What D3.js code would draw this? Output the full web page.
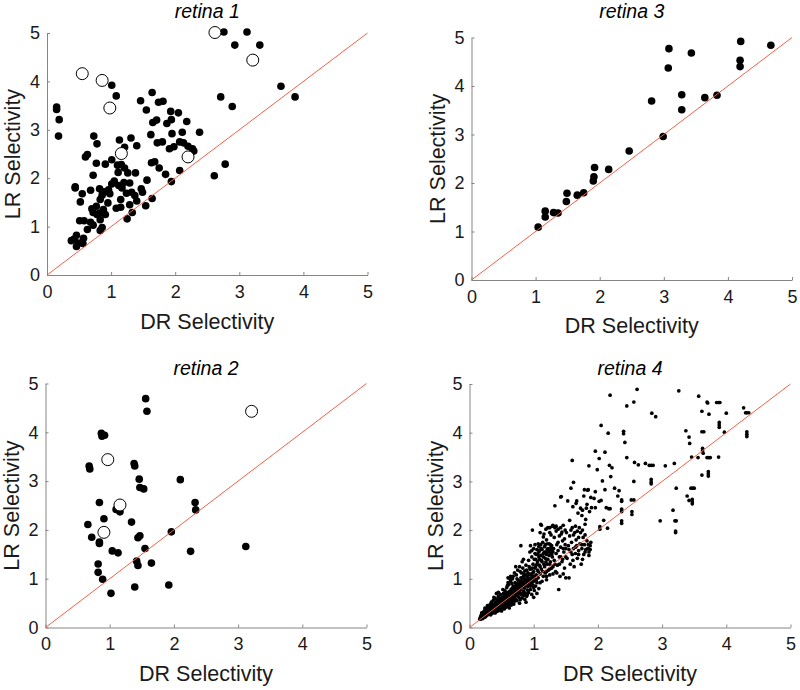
<!DOCTYPE html>
<html><head><meta charset="utf-8">
<script src="https://cdn.jsdelivr.net/npm/d3@7"></script>
<style>body{margin:0;background:#fff}svg{display:block}text{font-family:"Liberation Sans",Arial,Helvetica,sans-serif}</style>
</head><body><svg id="c" width="800" height="690"></svg>
<script>
const ticks = [0,1,2,3,4,5];
const titles = ["retina 1","retina 2","retina 3","retina 4"];
const xLabel = "DR Selectivity", yLabel = "LR Selectivity";

const r1Filled = [[2.76,5.02],[3.12,5.02],[2.93,4.75],[3.32,4.75],[3.65,3.90],[3.87,3.68],[2.71,3.68],[2.89,3.48],[2.61,2.05],[2.78,2.29],
[0.15,3.47],[0.15,3.42],[0.19,3.21],[0.18,2.87],[1.01,3.92],[1.08,3.70],
[1.46,3.60],[1.55,3.41],[1.64,3.77],[1.74,3.57],[1.81,3.59],[1.65,3.15],[1.71,3.20],[1.62,2.90],[1.72,2.73],[1.80,2.75],[1.87,3.13],[1.93,3.38],[1.94,3.21],[2.05,3.35],[1.95,2.92],[2.18,3.17],[2.11,2.95],[2.38,2.95],[1.91,2.61],[1.98,2.65],[2.07,2.75],[2.13,2.73],[2.20,2.66],[2.27,2.61],[2.29,2.56],[1.63,2.32],[1.68,2.34],[1.75,2.21],[1.85,2.08],[2.07,2.16],[1.94,1.93],[1.56,1.96],[1.54,1.43],[1.64,1.58],
[0.73,2.87],[0.78,2.71],[0.63,2.49],[0.60,2.44],[0.77,2.31],[0.91,2.29],[0.72,2.06],[1.01,2.38],[1.13,2.79],[1.21,2.64],[1.31,2.83],[1.40,2.67],[1.10,2.27],[1.16,2.28],[1.11,2.12],[1.21,2.21],[1.26,2.11],[1.38,2.11],
[0.44,1.82],[0.44,1.80],[0.55,1.68],[0.52,1.51],[0.68,1.75],[0.82,1.78],[0.89,1.72],[0.83,1.56],[0.86,1.65],[0.96,1.76],[1.01,1.88],[1.05,1.94],[0.98,1.68],[0.95,1.49],[1.12,1.85],[1.17,1.80],[1.20,1.91],[1.29,1.90],[1.24,1.69],[1.32,1.71],[1.37,1.64],[1.40,1.53],[1.47,1.78],[1.49,1.71],[1.15,1.56],[1.08,1.38],[1.15,1.40],[1.29,1.45],[1.33,1.29],[1.25,1.16],
[0.70,1.37],[0.77,1.42],[0.72,1.29],[0.78,1.25],[0.83,1.14],[0.82,1.28],[0.88,1.35],[0.91,1.25],[0.51,1.12],[0.58,1.12],[0.68,1.09],[0.63,0.94],[0.72,1.03],[0.83,0.92],[0.86,0.98],[0.38,0.71],[0.46,0.82],[0.46,0.59],[0.49,0.66],[0.57,0.76],[0.56,0.65],[0.42,0.74]];
const r1Open = [[0.55,4.16],[0.86,4.02],[0.98,3.45],[1.16,2.51],[2.20,2.44],[2.62,5.01],[3.21,4.44]];

const r2Filled = [[1.56,4.69],[1.58,4.43],[0.87,3.98],[0.92,3.94],[0.88,3.92],[0.68,3.31],[0.69,3.25],[1.38,3.36],[1.39,3.31],[1.46,3.04],[1.47,2.87],[1.53,2.84],[2.10,3.03],[0.84,2.56],[1.10,2.42],[1.16,2.37],[0.91,2.23],[0.66,2.11],[1.34,2.16],[0.72,1.85],[0.84,1.75],[0.84,1.72],[1.44,1.84],[1.47,1.88],[1.55,1.62],[1.96,1.96],[2.33,2.56],[2.34,2.41],[1.04,1.57],[1.13,1.53],[2.26,1.56],[3.12,1.66],[0.82,1.30],[0.82,1.13],[0.89,0.99],[1.42,1.36],[1.44,1.27],[1.65,1.32],[1.02,0.70],[1.39,0.83],[1.92,0.87]];
const r2Open = [[0.97,3.44],[1.16,2.51],[0.91,1.95],[3.21,4.43]];

const r3Filled = [[1.04,1.09],[1.15,1.30],[1.15,1.42],[1.28,1.39],[1.35,1.38],[1.48,1.62],[1.49,1.79],[1.65,1.75],[1.75,1.80],[1.90,2.04],[1.91,2.13],[1.92,2.32],[2.14,2.28],[2.46,2.66],[2.81,3.69],[2.99,2.96],[3.07,4.37],[3.08,4.77],[3.28,3.51],[3.28,3.82],[3.43,4.68],[3.64,3.76],[3.83,3.81],[4.19,4.40],[4.19,4.53],[4.20,4.92],[4.67,4.84]];

const r4Upper = [[2.61,4.89],[3.26,4.86],[2.19,4.77],[3.57,4.75],[2.56,4.63],[2.45,4.55],[3.70,4.63],[3.71,4.61],[3.85,4.62],[3.88,4.62],[3.90,4.62],[4.27,4.51],[4.30,4.41],[4.32,4.41],[4.35,4.41],[4.00,4.40],[3.73,4.38],[2.84,4.40],[2.90,4.33],[2.05,4.15],[2.16,3.99],[2.40,4.03],[2.40,3.98],[2.42,3.80],[2.45,3.49],[3.62,4.44],[3.62,4.02],[3.65,4.02],[3.89,4.21],[3.89,4.16],[3.89,4.11],[3.97,4.01],[4.32,4.02],[4.32,3.97],[4.32,3.92],[3.37,4.04],[3.42,3.91],[3.43,3.78],[3.46,3.50],[3.63,3.68],[3.63,3.63],[3.64,3.58],[3.56,3.49],[3.70,3.49],[3.73,3.49],[3.75,3.49],[3.88,3.50],[3.72,3.20],[3.72,3.15],[3.72,3.11],[3.62,3.13],[3.39,2.70],[3.42,2.61],[3.45,2.86],[3.48,2.86],[3.50,2.86],[3.47,2.63],[3.47,2.58],[3.47,2.54],[3.22,2.86],[3.17,2.41],[2.97,2.19],[3.20,2.19],[3.22,2.19],[3.21,1.98],[3.21,1.95],[3.05,3.32],[3.19,3.37],[2.57,3.39],[2.63,3.34],[2.74,3.37],[2.80,3.33],[2.83,3.33],[2.86,3.33],[2.83,3.04],[2.83,2.99],[2.83,2.95],[2.56,3.00],[2.52,2.62],[2.56,2.62],[2.53,2.38],[2.53,2.32],[2.37,2.62],[2.37,2.59],[2.37,2.43],[2.37,2.38],[2.37,2.19],[2.37,2.14],[2.33,2.81],[2.31,2.70],[2.26,2.86],[2.22,3.28],[2.18,3.33],[2.20,3.10],[2.11,3.60],[1.96,3.62],[2.02,3.47],[1.99,3.24],[1.86,3.32],[1.60,3.43],[1.62,2.98],[1.58,2.86],[1.33,2.50],[1.43,2.69],[1.67,2.60],[1.79,2.83],[1.85,2.83],[1.96,2.79],[2.07,3.01],[2.11,2.83],[1.89,2.67],[1.94,2.65],[2.02,2.59],[2.05,2.61],[2.13,2.46],[2.17,2.44],[2.19,2.44],[2.09,2.20],[2.03,2.07],[2.03,2.02],[2.15,2.04],[1.96,2.46],[1.83,2.53],[1.90,2.46],[1.76,2.41]];
const r4Dense = [[0.16,0.17],[0.17,0.21],[0.18,0.19],[0.18,0.25],[0.19,0.22],[0.20,0.18],[0.20,0.28],[0.21,0.24],[0.21,0.31],[0.22,0.20],[0.22,0.27],[0.23,0.23],[0.23,0.34],[0.24,0.29],[0.24,0.21],[0.25,0.26],[0.25,0.37],[0.26,0.31],[0.26,0.24],[0.27,0.28],[0.27,0.40],[0.28,0.33],[0.28,0.26],[0.29,0.36],[0.29,0.30],[0.30,0.42],[0.30,0.27],[0.19,0.30],[0.24,0.40],[0.28,0.45],
[0.31,0.34],[0.31,0.29],[0.32,0.38],[0.32,0.47],[0.33,0.31],[0.33,0.42],[0.34,0.36],[0.34,0.52],[0.35,0.29],[0.35,0.40],[0.36,0.45],[0.36,0.33],[0.37,0.38],[0.37,0.56],[0.38,0.43],[0.38,0.31],[0.39,0.48],[0.39,0.36],[0.40,0.41],[0.40,0.60],[0.41,0.35],[0.41,0.52],[0.42,0.46],[0.42,0.39],[0.43,0.57],[0.43,0.33],[0.44,0.43],[0.44,0.50],[0.45,0.38],[0.45,0.64],[0.46,0.47],[0.46,0.41],[0.47,0.55],[0.47,0.35],[0.48,0.45],[0.48,0.68],[0.49,0.51],[0.49,0.40],[0.50,0.58],[0.50,0.44],[0.33,0.26],[0.38,0.62],[0.42,0.70],[0.46,0.60],[0.40,0.30],[0.44,0.37],[0.48,0.38],[0.35,0.50],[0.45,0.72],[0.50,0.34],
[0.51,0.48],[0.51,0.62],[0.52,0.41],[0.52,0.55],[0.53,0.70],[0.53,0.45],[0.54,0.51],[0.54,0.38],[0.55,0.59],[0.55,0.76],[0.56,0.47],[0.56,0.65],[0.57,0.54],[0.57,0.42],[0.58,0.61],[0.58,0.82],[0.59,0.50],[0.59,0.70],[0.60,0.57],[0.60,0.44],[0.61,0.65],[0.61,0.88],[0.62,0.53],[0.62,0.74],[0.63,0.60],[0.63,0.47],[0.64,0.69],[0.64,0.95],[0.65,0.56],[0.65,0.79],[0.66,0.63],[0.66,0.50],[0.67,0.72],[0.67,1.00],[0.68,0.59],[0.68,0.84],[0.69,0.67],[0.69,0.53],[0.70,0.77],[0.70,0.62],[0.52,0.78],[0.55,0.40],[0.58,0.52],[0.60,0.92],[0.62,0.40],[0.64,0.58],[0.66,0.90],[0.68,1.05],[0.63,1.00],[0.57,0.72],[0.61,0.58],[0.65,0.46],[0.69,0.48],[0.54,0.66],[0.59,0.86],
[0.71,0.70],[0.71,0.92],[0.72,0.58],[0.72,0.81],[0.73,1.08],[0.73,0.66],[0.74,0.75],[0.74,0.55],[0.75,0.88],[0.75,1.18],[0.76,0.69],[0.76,0.97],[0.77,0.62],[0.77,0.83],[0.78,1.25],[0.78,0.74],[0.79,0.91],[0.79,0.57],[0.80,1.02],[0.80,0.79],[0.81,0.68],[0.81,1.12],[0.82,0.86],[0.82,0.61],[0.83,0.95],[0.83,1.22],[0.84,0.75],[0.84,1.05],[0.85,0.66],[0.85,0.90],[0.86,1.16],[0.86,0.81],[0.87,0.99],[0.87,0.70],[0.88,1.28],[0.88,0.87],[0.89,1.08],[0.89,0.64],[0.90,0.93],[0.90,0.77],[0.74,1.00],[0.78,0.50],[0.82,1.35],[0.86,0.58],[0.80,1.68],[0.84,1.40],[0.76,0.78],[0.88,0.52],[0.72,1.25],[0.79,1.15],
[0.91,1.12],[0.91,0.84],[0.92,1.38],[0.92,0.72],[0.93,1.00],[0.93,1.25],[0.94,0.89],[0.94,1.55],[0.95,1.08],[0.95,0.78],[0.96,1.20],[0.96,0.95],[0.97,1.45],[0.97,0.68],[0.98,2.00],[0.98,1.05],[0.99,1.30],[0.99,0.87],[1.00,1.62],[1.00,1.15],[1.01,0.76],[1.01,1.40],[1.02,0.98],[1.02,1.70],[1.03,1.25],[1.03,0.85],[1.04,1.50],[1.04,1.08],[1.05,1.60],[1.05,0.92],[1.06,1.35],[1.06,1.18],[1.07,1.72],[1.07,1.02],[1.08,1.45],[1.08,0.80],[1.09,1.28],[1.09,1.58],[1.10,1.10],[1.10,1.95],[0.95,1.68],[1.00,0.62],[1.05,0.70],[1.02,1.52],[0.97,1.58],[1.08,1.66],
[1.11,1.48],[1.11,2.12],[1.12,1.20],[1.12,1.62],[1.13,0.95],[1.13,1.35],[1.14,1.75],[1.15,1.05],[1.15,1.52],[1.16,1.92],[1.17,1.25],[1.17,1.66],[1.18,1.12],[1.18,1.42],[1.19,1.55],[1.20,1.80],[1.20,0.98],[1.21,1.30],[1.22,1.62],[1.22,2.05],[1.23,1.18],[1.24,1.48],[1.24,1.72],[1.25,1.08],[1.26,1.58],[1.26,1.35],[1.27,1.90],[1.28,1.22],[1.28,1.68],[1.29,1.45],[1.30,2.10],[1.30,1.10],[1.15,1.86],[1.19,2.02],[1.25,1.95],[1.29,2.08],[1.21,1.60],[1.27,1.52],
[1.31,1.62],[1.32,1.38],[1.32,1.85],[1.33,2.05],[1.34,1.15],[1.35,1.52],[1.35,1.98],[1.36,1.70],[1.37,1.28],[1.38,2.02],[1.38,1.58],[1.39,0.78],[1.40,1.45],[1.40,1.88],[1.41,1.05],[1.42,1.65],[1.42,2.68],[1.43,1.92],[1.44,1.35],[1.45,1.78],[1.46,1.10],[1.46,2.10],[1.47,1.55],[1.48,1.22],[1.48,1.82],[1.49,2.00],[1.50,1.02],[1.50,1.62],[1.36,1.12],[1.44,1.96],[1.33,1.30],[1.49,1.70],
[1.51,1.95],[1.52,1.42],[1.53,2.60],[1.54,1.68],[1.55,1.02],[1.56,1.88],[1.57,1.30],[1.58,2.00],[1.58,1.55],[1.59,1.75],[1.60,2.05],[1.61,1.38],[1.62,1.90],[1.62,1.62],[1.63,1.25],[1.64,1.95],[1.65,2.08],[1.65,1.52],[1.66,1.80],[1.67,1.68],[1.68,1.98],[1.68,1.42],[1.69,2.35],[1.70,1.85],[1.70,1.58],[1.61,2.48],[1.66,2.55],[1.56,2.20],
[1.71,2.05],[1.72,1.72],[1.73,1.95],[1.74,1.30],[1.75,2.30],[1.75,1.62],[1.76,2.00],[1.77,1.85],[1.78,1.50],[1.78,2.70],[1.79,1.70],[1.80,2.12],[1.80,1.90],[1.81,1.60],[1.82,2.45],[1.83,1.78],[1.84,1.62],[1.84,2.82],[1.85,1.70],[1.86,1.55],[1.86,1.48],[1.87,2.38],[1.88,1.68],[1.88,1.60],[1.89,1.75],[1.73,2.45],[1.76,1.40],[1.81,2.22]];
const r4Core = [[0.20,0.23],[0.22,0.24],[0.23,0.27],[0.25,0.30],[0.26,0.28],[0.27,0.33],[0.28,0.30],[0.29,0.33],[0.30,0.35],[0.31,0.38],[0.32,0.33],[0.33,0.36],[0.34,0.40],[0.35,0.37],[0.36,0.40],[0.37,0.43],[0.38,0.38],[0.39,0.42],[0.40,0.46],[0.41,0.44],[0.42,0.50],[0.43,0.46],[0.44,0.47],[0.45,0.52],[0.46,0.53],[0.47,0.49],[0.48,0.56],[0.49,0.60],[0.50,0.52],[0.51,0.55],[0.52,0.60],[0.53,0.57],[0.54,0.62],[0.55,0.55],[0.56,0.58],[0.57,0.63],[0.58,0.66],[0.59,0.60],[0.60,0.67],[0.61,0.72],[0.62,0.64],[0.63,0.70],[0.64,0.75],[0.65,0.68],[0.66,0.74],[0.67,0.80],[0.68,0.70],[0.69,0.78],[0.70,0.85],[0.71,0.76],[0.72,0.72],[0.73,0.86],[0.74,0.90],[0.75,0.80],[0.76,0.86],[0.77,0.95],[0.78,0.88],[0.79,0.80],[0.80,0.90],[0.81,0.96],[0.82,1.02],[0.83,0.84],[0.84,0.92],[0.85,1.10],[0.86,1.00],[0.87,0.88],[0.88,0.96],[0.89,1.18],[0.90,1.05],[0.91,0.98],[0.92,1.10],[0.93,0.88],[0.94,1.20],[0.95,1.00],[0.96,1.10],[0.97,0.92],[0.98,1.22],[0.99,1.12],[1.00,0.95],[1.01,1.05],[1.02,1.22],[1.03,1.40],[1.04,0.98],[1.05,1.30],[1.06,1.50],[1.07,1.15],[1.08,1.55],[1.09,1.40],[1.10,1.25],[1.11,1.70],[1.12,1.38],[1.13,1.60],[1.14,1.15],[1.15,1.45],[1.16,1.30],[1.17,1.55],[1.18,1.70],[1.19,1.35],[1.20,1.50],[1.21,1.72],[1.22,1.40],[1.23,1.55],[1.24,1.60],[1.25,1.30],[1.26,1.70],[1.27,1.65],[1.28,1.50],[1.29,1.60],[1.30,1.55],
[0.60,0.50],[0.70,0.55],[0.75,0.65],[0.80,0.70],[0.85,0.72],[0.90,0.68],[0.95,0.85],[1.00,0.82],[1.10,0.92],[1.20,1.05],[1.25,1.20],[1.30,1.25],[1.40,1.30],[1.45,1.40],[1.50,1.45],[1.55,1.60],[1.60,1.50],[1.65,1.65],[1.70,1.50],[1.75,1.70],[1.80,1.55],[1.85,1.62],[1.20,1.15],[1.00,1.00],[0.95,0.95],[0.90,0.88],[0.85,0.85],[0.80,0.82],[0.75,0.72],[0.70,0.68],[0.65,0.62],[0.60,0.60],[0.55,0.52],[0.50,0.48],[0.45,0.45],[0.40,0.38],[0.35,0.34],[0.30,0.30],[0.25,0.23],[0.20,0.20],[0.17,0.17],
[0.60,1.02],[0.70,1.12],[0.64,1.05],[1.12,2.10],[1.25,2.05],[1.35,2.08],[1.42,2.05],[1.38,1.75],[1.42,1.45],[1.46,1.62]];

const panels = [
  {title: titles[0], x0:47, x1:367.5, y0:275, y1:33, titleY:17.5, labY:329, filled:r1Filled, open:r1Open, r:3.8},
  {title: titles[2], x0:471.5, x1:792, y0:280, y1:37.5, titleY:18, labY:333, filled:r3Filled, open:[], r:3.8},
  {title: titles[1], x0:45.5, x1:366.5, y0:627.5, y1:383.5, titleY:375, labY:681, filled:r2Filled, open:r2Open, r:3.8},
  {title: titles[3], x0:469.5, x1:790.5, y0:627.5, y1:384, titleY:375, labY:681, filled:r4Dense.concat(r4Core, r4Upper), open:[], r:1.85}
];

const svg = d3.select("#c");
panels.forEach(p => {
  const x = d3.scaleLinear().domain([0,5]).range([p.x0, p.x1]);
  const y = d3.scaleLinear().domain([0,5]).range([p.y0, p.y1]);
  const g = svg.append("g");
  const ax = g.append("g").attr("transform", `translate(0,${p.y0})`)
    .call(d3.axisBottom(x).tickValues(ticks).tickFormat(d3.format("d")).tickSizeInner(-3).tickSizeOuter(0).tickPadding(13));
  const ay = g.append("g").attr("transform", `translate(${p.x0},0)`)
    .call(d3.axisLeft(y).tickValues(ticks).tickFormat(d3.format("d")).tickSizeInner(-3).tickSizeOuter(0).tickPadding(7));
  [ax, ay].forEach(a => {
    a.select(".domain").attr("stroke", "#858585").attr("stroke-width", 1);
    a.selectAll(".tick line").attr("stroke", "#858585");
    a.selectAll("text").attr("font-size", 18).attr("fill", "#1a1a1a").attr("font-family", '"Liberation Sans",Arial,sans-serif');
  });
  ax.selectAll("text").attr("dy", "0.55em");
  g.append("g").selectAll("circle").data(p.filled).join("circle")
    .attr("cx", d => x(d[0])).attr("cy", d => y(d[1])).attr("r", p.r).attr("fill", "#000");
  g.append("g").selectAll("circle").data(p.open).join("circle")
    .attr("cx", d => x(d[0])).attr("cy", d => y(d[1])).attr("r", 6).attr("fill", "#fff").attr("stroke", "#000").attr("stroke-width", 1);
  g.append("line").attr("x1", x(0)).attr("y1", y(0)).attr("x2", x(5)).attr("y2", y(5))
    .attr("stroke", "#f4604a").attr("stroke-width", 1);
  const cx = (p.x0 + p.x1) / 2, cy = (p.y0 + p.y1) / 2;
  g.append("text").attr("x", cx).attr("y", p.titleY).attr("text-anchor", "middle")
    .attr("font-size", 19.5).attr("font-style", "italic").attr("fill", "#000").text(p.title);
  g.append("text").attr("x", cx).attr("y", p.labY).attr("text-anchor", "middle")
    .attr("font-size", 21.5).attr("fill", "#1a1a1a").text(xLabel);
  g.append("text").attr("transform", `translate(${p.x0 - 27},${cy}) rotate(-90)`).attr("text-anchor", "middle")
    .attr("font-size", 21.5).attr("fill", "#1a1a1a").text(yLabel);
});
</script></body></html>
